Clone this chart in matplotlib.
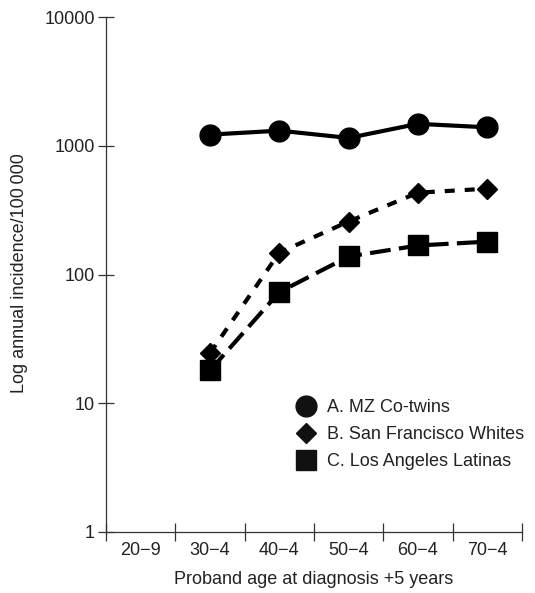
import matplotlib
matplotlib.use("Agg")
import matplotlib.pyplot as plt
from matplotlib.lines import Line2D

plt.rcParams['font.family'] = ['Liberation Sans', 'DejaVu Sans']

categories = ["20\u22129", "30\u22124", "40\u22124", "50\u22124", "60\u22124", "70\u22124"]
series_names = ["A. MZ Co-twins", "B. San Francisco Whites", "C. Los Angeles Latinas"]
cat_idx = [1, 2, 3, 4, 5]  # which categories have data
mz_cotwins = [1220, 1310, 1150, 1480, 1390]
sf_whites = [24.5, 148, 258, 432, 464]
la_latinas = [18, 73, 138, 168, 180]
yticks = [1, 10, 100, 1000, 10000]

TXT = '#222222'
FS = 13
fig = plt.figure(figsize=(5.35, 5.93), dpi=100)
ax = fig.add_axes([106/535, 1-532/593, (522-106)/535, (532-17)/593])

x = [i + 0.5 for i in cat_idx]
lw = 3.0
ax.plot(x, mz_cotwins, color='black', lw=lw, marker='o', markersize=15, solid_capstyle='butt')
ax.plot(x, sf_whites, color='black', lw=lw, linestyle=(0, (2.4, 2.4)), marker='D',
        markersize=10.5, dash_capstyle='butt')
ax.plot(x, la_latinas, color='black', lw=lw, linestyle=(0, (5, 2)), marker='s',
        markersize=14, dash_capstyle='butt')

ax.set_yscale('log')
ax.set_ylim(1, 10000)
ax.set_xlim(0, 6)
ax.set_yticks(yticks)
ax.set_yticklabels([str(v) for v in yticks])
ax.minorticks_off()
ax.set_xticks(range(0, 7))
ax.set_xticklabels([])
ax.set_xticks([i + 0.5 for i in range(6)], minor=True)
ax.set_xticklabels(categories, minor=True)
ax.tick_params(axis='x', which='minor', length=0, pad=7, labelsize=FS, labelcolor=TXT)
ax.tick_params(axis='x', which='major', direction='inout', length=13, width=0.9, color='#333333')
ax.tick_params(axis='y', which='major', direction='inout', length=12, width=0.9, color='#333333',
               labelsize=FS, labelcolor=TXT, pad=2)

for s in ['top', 'right']:
    ax.spines[s].set_visible(False)
for s in ['left', 'bottom']:
    ax.spines[s].set_linewidth(0.9)
    ax.spines[s].set_color('#333333')

ax.set_xlabel("Proband age at diagnosis +5 years", fontsize=FS, color=TXT, labelpad=9)
ax.set_ylabel("Log annual incidence/100\u2009000", fontsize=FS, color=TXT)
ax.yaxis.set_label_coords(-0.1875, 0.502)

handles = [
    Line2D([], [], color='#111111', marker='o', linestyle='none', markersize=15),
    Line2D([], [], color='#111111', marker='D', linestyle='none', markersize=10.5),
    Line2D([], [], color='#111111', marker='s', linestyle='none', markersize=15),
]
leg = ax.legend(handles, series_names, loc='upper left', bbox_to_anchor=(295/535, 1-399/593),
                bbox_transform=fig.transFigure, frameon=False, fontsize=FS,
                handletextpad=0.55, labelspacing=0.55, handlelength=1.2, borderpad=0, borderaxespad=0)
for t in leg.get_texts():
    t.set_color(TXT)

fig.savefig("out.png", dpi=100)
